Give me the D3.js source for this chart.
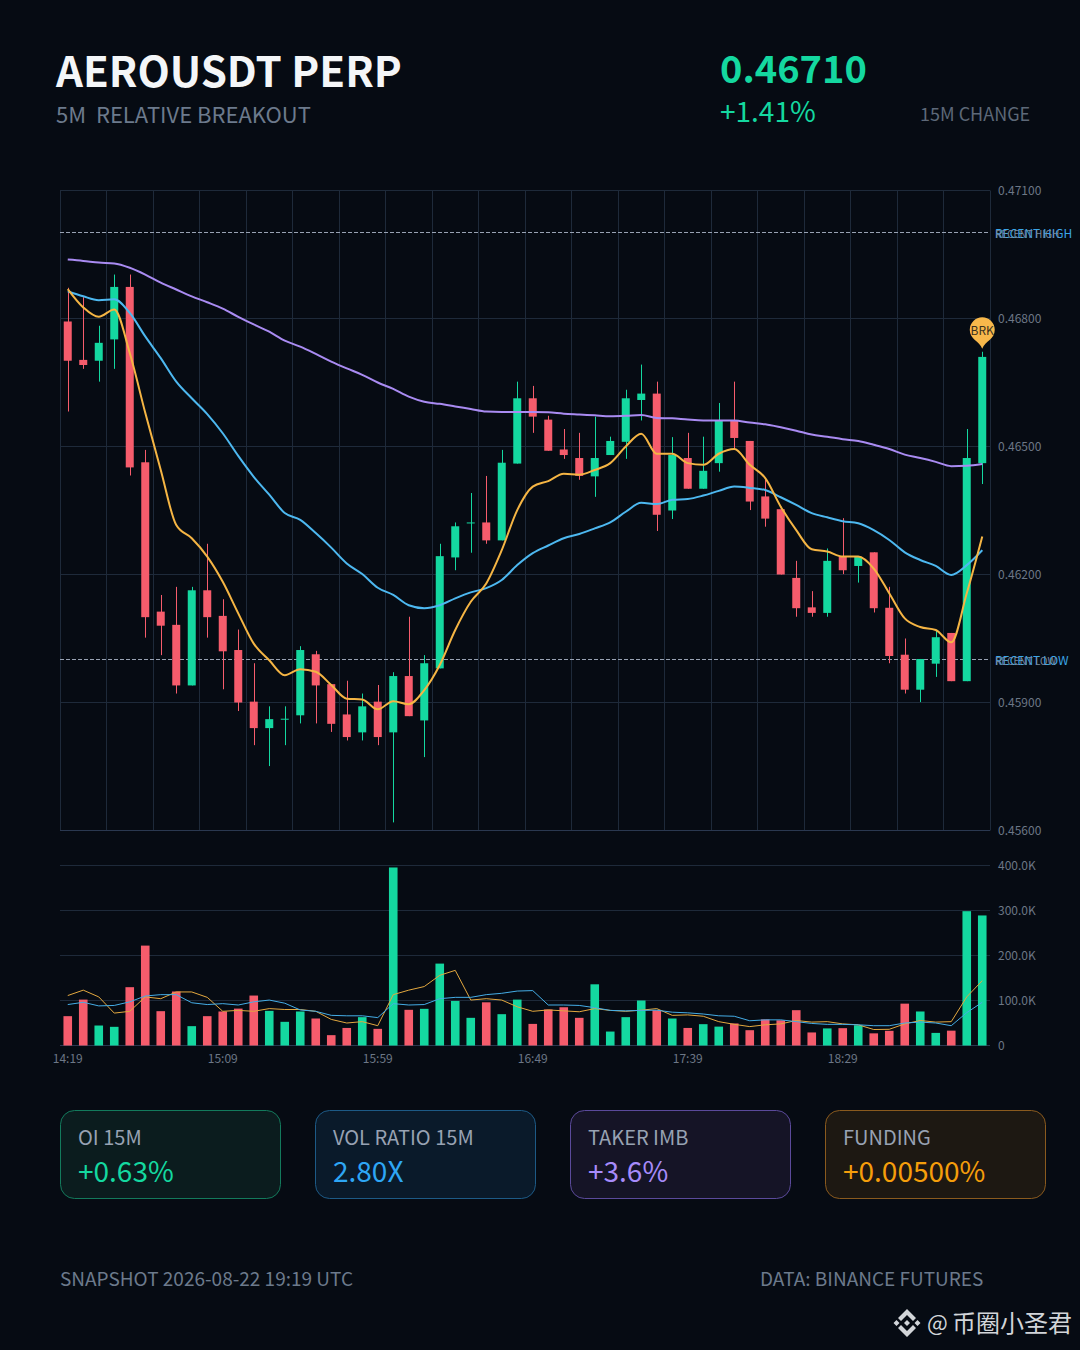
<!DOCTYPE html>
<html>
<head>
<meta charset="utf-8">
<script src="https://cdn.jsdelivr.net/npm/d3@7"></script>
<style>
  html, body { margin: 0; padding: 0; background: #060b13; }
  svg { display: block; }
  text { font-family: "Noto Sans CJK SC", "Noto Sans", sans-serif; }
</style>
</head>
<body>
<svg id="chart" width="1080" height="1350"></svg>
<script>
const timeLabels = { 0: '14:19', 10: '15:09', 20: '15:59', 30: '16:49', 40: '17:39', 50: '18:29' };
const priceTicks = [0.456, 0.459, 0.462, 0.465, 0.468, 0.471];
const volumeTicks = [0, 100000, 200000, 300000, 400000];
const recentHigh = 0.47003;
const recentLow = 0.46002;

const openVals = [0.46793, 0.46703, 0.46701, 0.46751, 0.46874, 0.46463, 0.46113, 0.46082, 0.4594, 0.46163,
  0.46103, 0.46023, 0.45902, 0.4584, 0.4586, 0.4587, 0.46013, 0.45943, 0.45872, 0.4583,
  0.45902, 0.4583, 0.45962, 0.45858, 0.4598, 0.4624, 0.4632, 0.46322, 0.4628, 0.4646,
  0.46613, 0.46563, 0.46493, 0.46473, 0.4643, 0.4648, 0.46511, 0.46609, 0.46624, 0.4635,
  0.46473, 0.46401, 0.46461, 0.4656, 0.46513, 0.46383, 0.46353, 0.46192, 0.46123, 0.4611,
  0.46243, 0.4622, 0.46252, 0.46122, 0.46012, 0.4593, 0.45991, 0.46063, 0.4595, 0.46461];
const closeVals = [0.46701, 0.46691, 0.46743, 0.46874, 0.46451, 0.461, 0.4608, 0.4594, 0.46163, 0.461,
  0.4602, 0.459, 0.4584, 0.45861, 0.45862, 0.46023, 0.4594, 0.4585, 0.45819, 0.45891,
  0.45819, 0.45962, 0.45868, 0.45992, 0.46243, 0.46313, 0.46322, 0.4628, 0.46462, 0.46613,
  0.4657, 0.4649, 0.4648, 0.46431, 0.46473, 0.46513, 0.46613, 0.46624, 0.4634, 0.4648,
  0.46401, 0.46443, 0.4656, 0.4652, 0.46371, 0.46331, 0.462, 0.46121, 0.4611, 0.46232,
  0.4621, 0.46241, 0.46121, 0.46009, 0.4593, 0.46002, 0.46053, 0.4595, 0.46473, 0.4671];
const highVals = [0.46872, 0.4685, 0.46783, 0.46903, 0.46903, 0.46492, 0.46152, 0.46171, 0.46171, 0.46272,
  0.46142, 0.46071, 0.45992, 0.45891, 0.45891, 0.46032, 0.46021, 0.45943, 0.45951, 0.45921,
  0.45941, 0.45971, 0.46101, 0.46011, 0.46272, 0.46322, 0.46391, 0.46431, 0.46492, 0.46652,
  0.46642, 0.46572, 0.46541, 0.46532, 0.4657, 0.46523, 0.46633, 0.46692, 0.46652, 0.46522,
  0.46532, 0.46523, 0.46602, 0.46652, 0.46513, 0.46422, 0.46359, 0.46232, 0.46161, 0.46261,
  0.46332, 0.46241, 0.46252, 0.46171, 0.4605, 0.46002, 0.4607, 0.46063, 0.46541, 0.46722];
const lowVals = [0.46582, 0.46682, 0.46652, 0.46682, 0.46432, 0.46052, 0.46011, 0.45921, 0.4594, 0.46052,
  0.45931, 0.4588, 0.458, 0.45751, 0.458, 0.45851, 0.45851, 0.45831, 0.45811, 0.45811,
  0.458, 0.45619, 0.45868, 0.45772, 0.4598, 0.4621, 0.46251, 0.46272, 0.4628, 0.4646,
  0.46532, 0.4649, 0.46471, 0.46422, 0.46382, 0.4648, 0.46471, 0.46561, 0.46302, 0.4633,
  0.46401, 0.46401, 0.46441, 0.46494, 0.46351, 0.46312, 0.462, 0.46101, 0.46101, 0.46101,
  0.46201, 0.46181, 0.46111, 0.45992, 0.45921, 0.45901, 0.4596, 0.4595, 0.4595, 0.46412];

const maFast = [0.46869, 0.46826, 0.46804, 0.46821, 0.46719, 0.46579, 0.46445, 0.46316, 0.46285, 0.46242,
  0.46183, 0.46109, 0.46038, 0.45999, 0.45964, 0.45978, 0.45972, 0.45941, 0.45909, 0.45907,
  0.45884, 0.45903, 0.45896, 0.45929, 0.45988, 0.4607, 0.46136, 0.46179, 0.46257, 0.46351,
  0.46406, 0.46419, 0.46436, 0.46434, 0.46445, 0.46461, 0.465, 0.4653, 0.46483, 0.46483,
  0.46461, 0.46457, 0.46483, 0.46494, 0.46457, 0.46426, 0.46359, 0.46304, 0.46259, 0.46254,
  0.46242, 0.46242, 0.46214, 0.46156, 0.46097, 0.46077, 0.4607, 0.46041, 0.46156, 0.46289];
const maMid = [0.46864, 0.46852, 0.46843, 0.46845, 0.46813, 0.46758, 0.46707, 0.46652, 0.46613, 0.46576,
  0.46531, 0.46478, 0.46429, 0.46387, 0.46344, 0.46328, 0.46297, 0.46263, 0.46226, 0.46201,
  0.46169, 0.46152, 0.46128, 0.46121, 0.46128, 0.46144, 0.46158, 0.46168, 0.46187, 0.46222,
  0.4625, 0.46268, 0.46285, 0.46295, 0.46308, 0.46322, 0.46347, 0.46368, 0.46365, 0.46375,
  0.46377, 0.46385, 0.46396, 0.46406, 0.46403, 0.46398, 0.46381, 0.46363, 0.46344, 0.46334,
  0.46325, 0.4632, 0.46304, 0.46281, 0.46252, 0.46234, 0.4622, 0.46199, 0.46222, 0.46257];
const maSlow = [0.46938, 0.46935, 0.46931, 0.46929, 0.46919, 0.46903, 0.46884, 0.46868, 0.46852, 0.46838,
  0.46823, 0.46804, 0.46786, 0.46769, 0.46748, 0.46734, 0.46717, 0.46699, 0.46683, 0.46668,
  0.4665, 0.46635, 0.46617, 0.46605, 0.466, 0.46594, 0.46588, 0.46582, 0.46581, 0.46581,
  0.46581, 0.4658, 0.46577, 0.46575, 0.46573, 0.46571, 0.46572, 0.46574, 0.46567, 0.46566,
  0.46563, 0.46561, 0.46561, 0.46561, 0.46556, 0.46552, 0.46545, 0.46537, 0.46528, 0.46523,
  0.46517, 0.46513, 0.46504, 0.46494, 0.46481, 0.46473, 0.46464, 0.46454, 0.46455, 0.46459];

const volumeVals = [65200, 102000, 44400, 41500, 129600, 222000, 76300, 120000, 43000, 65200,
  75600, 82000, 111000, 77000, 52600, 75600, 60000, 23000, 39000, 63000,
  37000, 395600, 79300, 81500, 182000, 99000, 61500, 96000, 69600, 102000,
  48000, 80000, 85000, 61500, 136000, 31000, 63000, 100000, 78500, 60000,
  39000, 47400, 42000, 49000, 34000, 58000, 56000, 78500, 29000, 38000,
  38500, 45000, 27000, 32600, 93000, 75600, 28000, 33000, 298500, 289000];
const volFast = [111000, 123000, 108000, 72000, 76000, 108000, 104000, 119000, 119000, 107000,
  76000, 78000, 76000, 82000, 80000, 80000, 76000, 58000, 50000, 53000,
  44000, 113000, 123000, 131000, 156000, 167000, 101000, 104000, 101000, 86000,
  76000, 79000, 77000, 75000, 82000, 78000, 76000, 78500, 82000, 67000,
  68000, 65000, 53000, 47000, 42000, 46000, 48000, 55500, 52000, 53000,
  48000, 46000, 35500, 36000, 48000, 55500, 52000, 53000, 108000, 144000];
const volSlow = [91000, 96000, 88000, 89000, 97000, 110000, 113000, 113000, 95000, 91000,
  93000, 90000, 97000, 101000, 94000, 79000, 76000, 67000, 66000, 66000,
  62000, 93000, 90000, 91000, 104000, 107000, 107000, 113000, 116000, 121000,
  122000, 90000, 90000, 89000, 84000, 78000, 77000, 78000, 78500, 74000,
  72600, 70000, 66000, 65000, 55000, 57000, 57000, 53000, 49000, 47000,
  47000, 46000, 44000, 44000, 50000, 52000, 50000, 44000, 73000, 96000];

const upColor = '#14d8a0';
const downColor = '#f65c6c';
const gridColor = '#1e2a3a';
const mutedColor = '#6c7786';
const cards = [
  { label: 'OI 15M', value: '+0.63%', fill: '#0b1c1e', stroke: '#137a5c', color: '#14d8a0' },
  { label: 'VOL RATIO 15M', value: '2.80X', fill: '#0a1a2a', stroke: '#1d5a86', color: '#2ea6f5' },
  { label: 'TAKER IMB', value: '+3.6%', fill: '#151426', stroke: '#5b4a9b', color: '#a78bfa' },
  { label: 'FUNDING', value: '+0.00500%', fill: '#1d1812', stroke: '#8a5a1e', color: '#f59e0b' }
];

const svg = d3.select('#chart');
svg.append('rect').attr('width', 1080).attr('height', 1350).attr('fill', '#060b13');

function label(x, y, str, size, color, weight) {
    return svg.append('text')
        .attr('x', x).attr('y', y)
        .attr('font-size', size)
        .attr('font-weight', weight || 400)
        .attr('fill', color)
        .text(str);
}

// header
label(56, 87, 'AEROUSDT PERP', 42, '#f4f6f8', 700);
label(56, 123, '5M  RELATIVE BREAKOUT', 22, '#6c7a8c').style('white-space', 'pre');
label(720, 83, '0.46710', 38, upColor, 700);
label(720, 122, '+1.41%', 28, upColor);
label(920, 120.5, '15M CHANGE', 18, '#5d6878');

const idx = d3.range(openVals.length);
const x = d3.scaleBand().domain(idx).range([60, 990]);
const cx = function (i) { return x(i) + x.bandwidth() / 2; };
const y = d3.scaleLinear().domain([0.456, 0.471]).range([830.5, 190.5]);
const yVol = d3.scaleLinear().domain([0, 400000]).range([1045.5, 865.5]);

// price grid
svg.append('g').selectAll('line').data(priceTicks).enter().append('line')
    .attr('x1', 60).attr('x2', 990)
    .attr('y1', function (d) { return y(d); })
    .attr('y2', function (d) { return y(d); })
    .attr('stroke', gridColor);
const vGrid = idx.filter(function (i) { return i % 3 === 0; }).concat([idx.length]);
svg.append('g').selectAll('line').data(vGrid).enter().append('line')
    .attr('x1', function (d) { return Math.floor(60 + d * x.step()) + 0.5; })
    .attr('x2', function (d) { return Math.floor(60 + d * x.step()) + 0.5; })
    .attr('y1', y(0.471)).attr('y2', y(0.456))
    .attr('stroke', gridColor);
svg.append('line').attr('x1', 60).attr('x2', 990).attr('y1', y(0.456)).attr('y2', y(0.456)).attr('stroke', '#2a3850');

// recent high / low lines
[[recentHigh, 'RECENT HIGH'], [recentLow, 'RECENT LOW']].forEach(function (d) {
    const py = Math.round(y(d[0])) + 0.5;
    svg.append('line').attr('x1', 60).attr('x2', 990).attr('y1', py).attr('y2', py)
        .attr('stroke', '#98a2b3').attr('stroke-dasharray', '4 2');
    label(995, py + 5.5, d[1], 12, '#3ba6e8');
    label(995, py + 5.5, d[1], 10, '#7a8a9c');
});

// candles
const candles = svg.append('g').selectAll('g').data(idx).enter().append('g')
    .attr('fill', function (i) { return closeVals[i] >= openVals[i] ? upColor : downColor; })
    .attr('stroke', function (i) { return closeVals[i] >= openVals[i] ? upColor : downColor; });
candles.append('line')
    .attr('x1', function (i) { return Math.round(cx(i)) + 0.5; })
    .attr('x2', function (i) { return Math.round(cx(i)) + 0.5; })
    .attr('y1', function (i) { return y(highVals[i]); })
    .attr('y2', function (i) { return y(lowVals[i]); });
candles.append('rect')
    .attr('x', function (i) { return cx(i) - 4; })
    .attr('width', 8)
    .attr('y', function (i) { return y(Math.max(openVals[i], closeVals[i])); })
    .attr('height', function (i) { return Math.max(1, y(Math.min(openVals[i], closeVals[i])) - y(Math.max(openVals[i], closeVals[i]))); })
    .attr('stroke', 'none');

// moving averages
const maLine = d3.line()
    .x(function (d, i) { return cx(i); })
    .y(function (d) { return y(d); })
    .curve(d3.curveMonotoneX);
[[maSlow, '#a98bf2'], [maMid, '#4db8f0'], [maFast, '#f5b544']].forEach(function (d) {
    svg.append('path').attr('d', maLine(d[0])).attr('fill', 'none').attr('stroke', d[1]).attr('stroke-width', 2);
});

// BRK pin on last candle
const pinX = cx(idx.length - 1);
const pinTip = y(highVals[idx.length - 1]) - 3;
svg.append('path')
    .attr('d', 'M' + pinX + ',' + pinTip +
        ' C' + (pinX - 3) + ',' + (pinTip - 8) + ' ' + (pinX - 12.5) + ',' + (pinTip - 9) + ' ' + (pinX - 12.5) + ',' + (pinTip - 19) +
        ' A12.5,12.5 0 1 1 ' + (pinX + 12.5) + ',' + (pinTip - 19) +
        ' C' + (pinX + 12.5) + ',' + (pinTip - 9) + ' ' + (pinX + 3) + ',' + (pinTip - 8) + ' ' + pinX + ',' + pinTip + 'Z')
    .attr('fill', '#f7b84b');
label(pinX, pinTip - 14, 'BRK', 12, '#3a3120').attr('text-anchor', 'middle');

// price axis
const priceAxis = d3.axisRight(y).tickValues(priceTicks).tickSize(0).tickPadding(8).tickFormat(d3.format('.5f'));
const gPrice = svg.append('g').attr('transform', 'translate(990,0)').call(priceAxis);
gPrice.select('.domain').remove();
gPrice.selectAll('text').attr('fill', mutedColor).attr('font-size', 12).attr('font-family', null);

// volume panel
svg.append('g').selectAll('line').data(volumeTicks).enter().append('line')
    .attr('x1', 60).attr('x2', 990)
    .attr('y1', function (d) { return yVol(d); })
    .attr('y2', function (d) { return yVol(d); })
    .attr('stroke', function (d) { return d === 0 ? '#2a3850' : gridColor; });
svg.append('g').selectAll('rect').data(idx).enter().append('rect')
    .attr('x', function (i) { return cx(i) - 4.3; })
    .attr('width', 8.6)
    .attr('y', function (i) { return yVol(volumeVals[i]); })
    .attr('height', function (i) { return yVol(0) - yVol(volumeVals[i]); })
    .attr('fill', function (i) { return closeVals[i] >= openVals[i] ? upColor : downColor; });
const volLine = d3.line()
    .x(function (d, i) { return cx(i); })
    .y(function (d) { return yVol(d); });
svg.append('path').attr('d', volLine(volFast)).attr('fill', 'none').attr('stroke', '#e3a83f').attr('stroke-width', 1);
svg.append('path').attr('d', volLine(volSlow)).attr('fill', 'none').attr('stroke', '#45ade6').attr('stroke-width', 1);

const volAxis = d3.axisRight(yVol).tickValues(volumeTicks).tickSize(0).tickPadding(8)
    .tickFormat(function (d) { return d === 0 ? '0' : (d / 1000).toFixed(1) + 'K'; });
const gVol = svg.append('g').attr('transform', 'translate(990,0)').call(volAxis);
gVol.select('.domain').remove();
gVol.selectAll('text').attr('fill', mutedColor).attr('font-size', 12).attr('font-family', null);

const timeAxis = d3.axisBottom(x)
    .tickValues(Object.keys(timeLabels).map(Number))
    .tickSize(0).tickPadding(9)
    .tickFormat(function (d) { return timeLabels[d]; });
const gTime = svg.append('g').attr('transform', 'translate(0,1045)').call(timeAxis);
gTime.select('.domain').remove();
gTime.selectAll('text').attr('fill', mutedColor).attr('font-size', 12).attr('font-family', null);

// stat cards
cards.forEach(function (c, i) {
    const left = 60.5 + i * 255;
    svg.append('rect').attr('x', left).attr('y', 1110.5).attr('width', 220).attr('height', 88).attr('rx', 14)
        .attr('fill', c.fill).attr('stroke', c.stroke);
    label(left + 17.5, 1145, c.label, 20, '#98a2b3');
    label(left + 17.5, 1182, c.value, 28, c.color);
});

// footer
label(60, 1286, 'SNAPSHOT 2026-08-22 19:19 UTC', 19, '#6c7a8c');
label(760, 1286, 'DATA: BINANCE FUTURES', 19, '#6c7a8c');

// watermark
const logo = svg.append('g').attr('transform', 'translate(907,1323)').attr('fill', '#d2d5d9');
logo.append('path').attr('d', 'M-13.5,0 L-10.5,-3 L-7.5,0 L-10.5,3Z M13.5,0 L10.5,-3 L7.5,0 L10.5,3Z');
logo.append('path').attr('d', 'M0,-14 L9,-5 L6,-2 L0,-8 L-6,-2 L-9,-5Z M0,14 L9,5 L6,2 L0,8 L-6,2 L-9,5Z');
logo.append('path').attr('d', 'M0,-3 L3,0 L0,3 L-3,0Z');
label(927, 1331, '@', 22, '#d2d5d9');
label(952, 1332, '币圈小圣君', 24, '#d2d5d9');
</script>
</body>
</html>
